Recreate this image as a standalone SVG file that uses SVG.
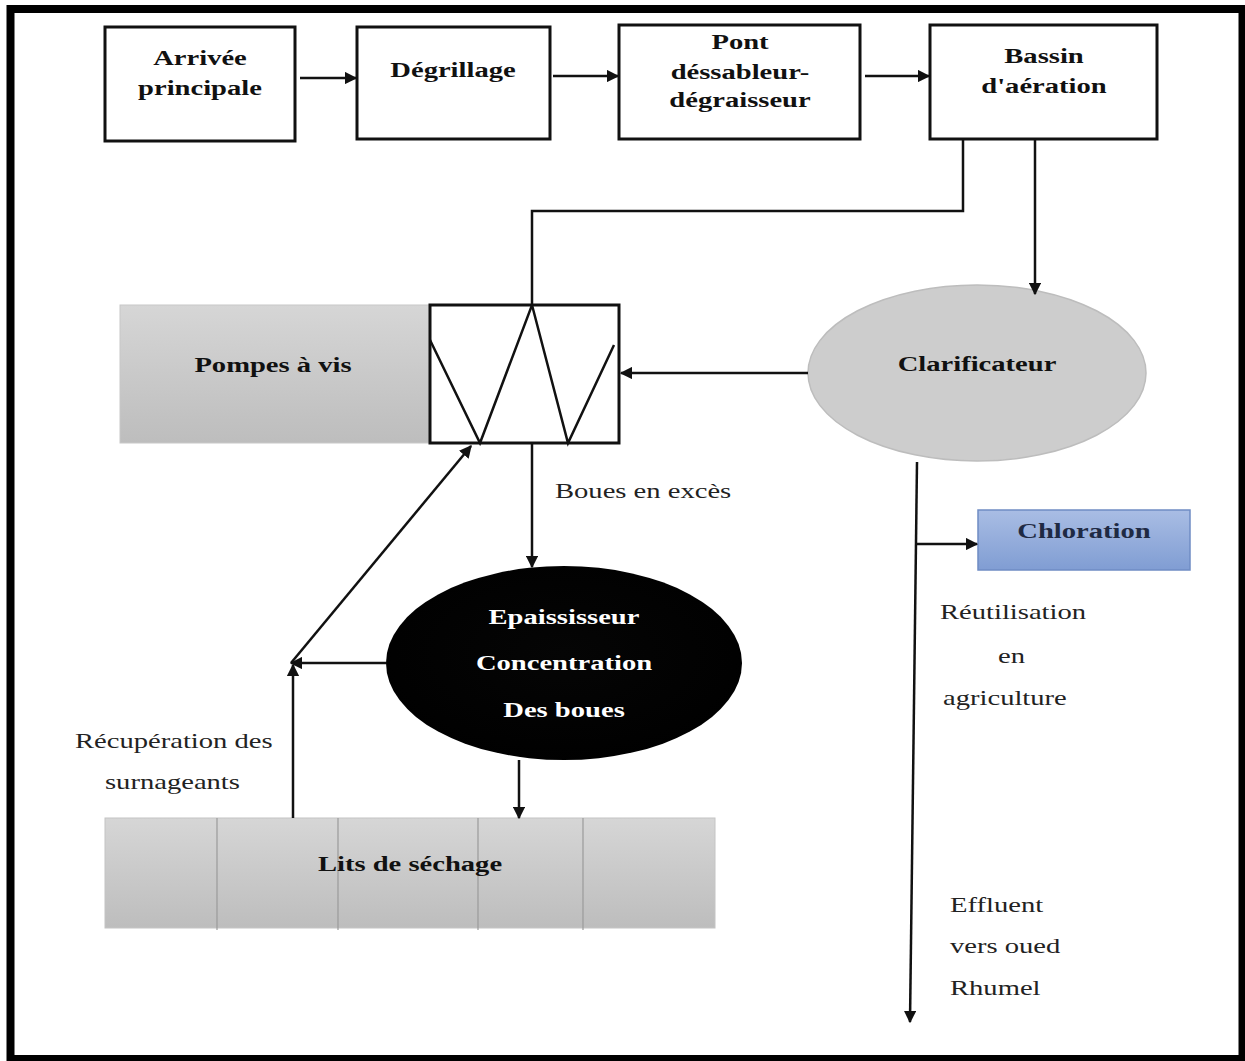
<svg xmlns="http://www.w3.org/2000/svg" width="1245" height="1061" viewBox="0 0 1245 1061">
<style>
.box{fill:#fff;stroke:#111;stroke-width:3}
.b{font-family:"Liberation Serif",serif;font-weight:bold;font-size:22px;fill:#111;text-anchor:middle}
.r{font-family:"Liberation Serif",serif;font-size:22px;fill:#222}
.w{fill:#fff}
.ln{fill:none;stroke:#111;stroke-width:2.5}
.arr{fill:none;stroke:#111;stroke-width:2.5;marker-end:url(#ah)}
</style>
<defs>
<marker id="ah" viewBox="0 0 10 10" refX="9" refY="5" markerWidth="5" markerHeight="5" orient="auto" markerUnits="strokeWidth">
<path d="M0,0 L10,5 L0,10 z" fill="#111"/>
</marker>
<linearGradient id="gray" x1="0" y1="0" x2="0" y2="1">
<stop offset="0" stop-color="#d6d6d6"/><stop offset="1" stop-color="#bdbdbd"/>
</linearGradient>
<linearGradient id="blue" x1="0" y1="0" x2="0" y2="1">
<stop offset="0" stop-color="#a9bde4"/><stop offset="1" stop-color="#809dd3"/>
</linearGradient>
<radialGradient id="blk" cx="0.5" cy="0.45" r="0.6">
<stop offset="0" stop-color="#050505"/><stop offset="1" stop-color="#000"/>
</radialGradient>
</defs>
<rect x="0" y="0" width="1245" height="1061" fill="#fff"/>
<rect x="10.5" y="9" width="1232" height="1050" fill="none" stroke="#000" stroke-width="8"/>

<g id="arrivee">
<rect class="box" x="105" y="27" width="190" height="114"/>
<text class="b" transform="translate(200,65) scale(1.3,1)">Arrivée</text>
<text class="b" transform="translate(200,95) scale(1.3,1)">principale</text>
</g>
<g id="degrillage">
<rect class="box" x="357" y="27" width="193" height="112"/>
<text class="b" transform="translate(453,77) scale(1.3,1)">Dégrillage</text>
</g>
<g id="pont">
<rect class="box" x="619" y="25" width="241" height="114"/>
<text class="b" transform="translate(740,49) scale(1.3,1)">Pont</text>
<text class="b" transform="translate(740,79) scale(1.3,1)">déssableur-</text>
<text class="b" transform="translate(740,107) scale(1.3,1)">dégraisseur</text>
</g>
<g id="bassin">
<rect class="box" x="930" y="25" width="227" height="114"/>
<text class="b" transform="translate(1044,63) scale(1.3,1)">Bassin</text>
<text class="b" transform="translate(1044,93) scale(1.3,1)">d'aération</text>
</g>

<g id="pompes">
<rect x="120" y="305" width="310" height="138" fill="url(#gray)" stroke="#c8c8c8" stroke-width="1"/>
<text class="b" transform="translate(273,372) scale(1.3,1)">Pompes à vis</text>
<rect class="box" x="430" y="305" width="189" height="138"/>
<polyline class="ln" points="430,340 480,443 532,305 568,443 614,345"/>
</g>

<g id="clarificateur">
<ellipse cx="977" cy="373" rx="169" ry="88" fill="#cdcdcd" stroke="#bdbdbd" stroke-width="1.5"/>
<text class="b" transform="translate(977,371) scale(1.3,1)">Clarificateur</text>
</g>

<g id="epaississeur">
<ellipse cx="564" cy="663" rx="178" ry="97" fill="url(#blk)"/>
<text class="b w" transform="translate(564,624) scale(1.3,1)">Epaississeur</text>
<text class="b w" transform="translate(564,670) scale(1.3,1)">Concentration</text>
<text class="b w" transform="translate(564,717) scale(1.3,1)">Des boues</text>
</g>

<g id="lits">
<rect x="105" y="818" width="610" height="110" fill="url(#gray)" stroke="#c4c4c4" stroke-width="1"/>
<g stroke="#9a9a9a" stroke-width="1.2">
<line x1="217" y1="818" x2="217" y2="930"/>
<line x1="338" y1="818" x2="338" y2="930"/>
<line x1="478" y1="818" x2="478" y2="930"/>
<line x1="583" y1="818" x2="583" y2="930"/>
</g>
<text class="b" transform="translate(410,871) scale(1.3,1)">Lits de séchage</text>
</g>

<g id="chloration">
<rect x="978" y="510" width="212" height="60" fill="url(#blue)" stroke="#6f8cc4" stroke-width="1.5"/>
<text class="b" style="fill:#1f2a44" transform="translate(1084,538) scale(1.3,1)">Chloration</text>
</g>

<g id="labels">
<text class="r" transform="translate(555,498) scale(1.3,1)">Boues en excès</text>
<text class="r" transform="translate(75,748) scale(1.3,1)">Récupération des</text>
<text class="r" transform="translate(105,789) scale(1.3,1)">surnageants</text>
<text class="r" transform="translate(940,619) scale(1.3,1)">Réutilisation</text>
<text class="r" transform="translate(998,663) scale(1.3,1)">en</text>
<text class="r" transform="translate(943,705) scale(1.3,1)">agriculture</text>
<text class="r" transform="translate(950,912) scale(1.3,1)">Effluent</text>
<text class="r" transform="translate(950,953) scale(1.3,1)">vers oued</text>
<text class="r" transform="translate(950,995) scale(1.3,1)">Rhumel</text>
</g>

<g id="connectors">
<line class="arr" x1="300" y1="78" x2="356" y2="78"/>
<line class="arr" x1="553" y1="76" x2="618" y2="76"/>
<line class="arr" x1="865" y1="76" x2="929" y2="76"/>
<polyline class="ln" points="963,139 963,211 532,211 532,305"/>
<line class="arr" x1="1035" y1="139" x2="1035" y2="294"/>
<line class="arr" x1="808" y1="373" x2="621" y2="373"/>
<line class="arr" x1="532" y1="443" x2="532" y2="567"/>
<line class="arr" x1="386" y1="663" x2="291" y2="663"/>
<line class="arr" x1="293" y1="818" x2="293" y2="665"/>
<line class="arr" x1="291" y1="663" x2="471" y2="446"/>
<line class="arr" x1="519" y1="760" x2="519" y2="818"/>
<line class="arr" x1="917" y1="462" x2="910" y2="1022"/>
<line class="arr" x1="916" y1="544" x2="977" y2="544"/>
</g>
</svg>
